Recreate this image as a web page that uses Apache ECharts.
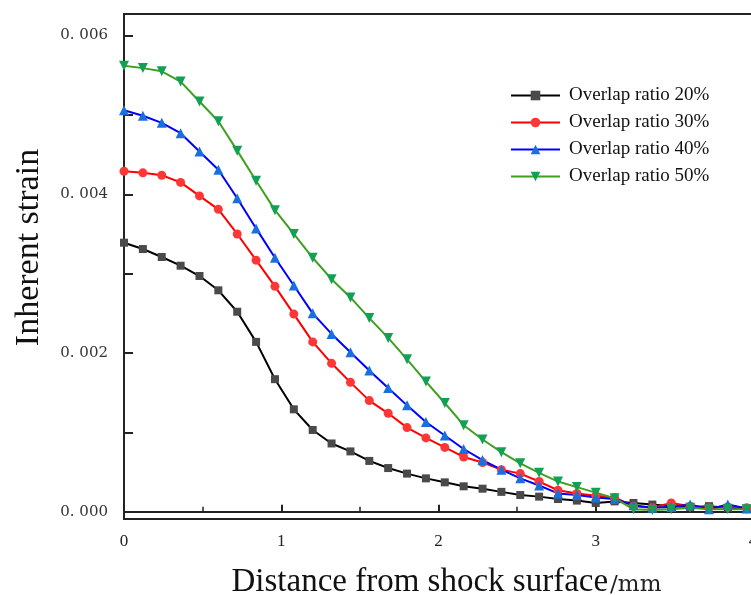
<!DOCTYPE html>
<html>
<head>
<meta charset="utf-8">
<script src="https://cdn.jsdelivr.net/npm/echarts@6/dist/echarts.min.js"></script>
<style>html,body{margin:0;padding:0;background:#fff;}#c{width:751px;height:595px;}</style>
</head>
<body>
<div id="c"></div>
<script>
const distances = [0,0.12,0.24,0.36,0.48,0.6,0.72,0.84,0.96,1.08,1.2,1.32,1.44,1.56,1.68,1.8,1.92,2.04,2.16,2.28,2.4,2.52,2.64,2.76,2.88,3.0,3.12,3.24,3.36,3.48,3.6,3.72,3.84,3.96];
const ratio20 = [0.00339,0.00331,0.00321,0.00310,0.00297,0.00279,0.00252,0.00214,0.00167,0.00129,0.00103,0.00086,0.00076,0.00064,0.00055,0.00048,0.00042,0.00037,0.00032,0.00029,0.00025,0.00021,0.00019,0.00016,0.00014,0.00011,0.00013,0.00011,0.00009,0.00007,0.00006,0.00007,0.00005,0.00004];
const ratio30 = [0.00429,0.00427,0.00424,0.00415,0.00398,0.00381,0.00350,0.00317,0.00284,0.00249,0.00214,0.00187,0.00163,0.00140,0.00124,0.00106,0.00093,0.00081,0.00069,0.00062,0.00053,0.00048,0.00038,0.00027,0.00023,0.00020,0.00018,0.00007,0.00005,0.00011,0.00007,0.00005,0.00006,0.00005];
const ratio40 = [0.00506,0.00499,0.00490,0.00477,0.00454,0.00431,0.00395,0.00357,0.00320,0.00285,0.00250,0.00224,0.00201,0.00178,0.00156,0.00134,0.00113,0.00096,0.00079,0.00065,0.00053,0.00042,0.00033,0.00023,0.00021,0.00018,0.00016,0.00008,0.00005,0.00006,0.00009,0.00003,0.00009,0.00004];
const ratio50 = [0.00562,0.00559,0.00555,0.00542,0.00517,0.00492,0.00455,0.00417,0.00380,0.00350,0.00320,0.00293,0.00270,0.00244,0.00219,0.00192,0.00164,0.00137,0.00109,0.00091,0.00075,0.00061,0.00049,0.00038,0.00031,0.00024,0.00017,0.00003,0.00002,0.00003,0.00005,0.00003,0.00003,0.00003];
const seriesNames = ['Overlap ratio 20%','Overlap ratio 30%','Overlap ratio 40%','Overlap ratio 50%'];
const yTickValues = [0,0.001,0.002,0.003,0.004,0.005,0.006];
const yLabelValues = [0,0.002,0.004,0.006];
const xLabelValues = [0,1,2,3,4];

const serif = '"Liberation Serif", "Times New Roman", serif';
function pairs(arr){ return distances.map((d,i)=>[d,arr[i]]); }
function mk(name, data, lineColor, markColor, symbol, rot, size){
  return {
    name, type:'line', data: pairs(data), smooth:false,
    symbol, symbolSize:size, symbolRotate:rot,
    lineStyle:{color:lineColor, width:2},
    itemStyle:{color:markColor},
    emphasis:{disabled:true}, animation:false, z: 2
  };
}
const chart = echarts.init(document.getElementById('c'));
chart.setOption({
  backgroundColor:'#fff',
  animation:false,
  grid:{left:124, top:14, width:629, height:505, containLabel:false, outerBoundsMode:'none',
        show:true, borderColor:'#222', borderWidth:2, backgroundColor:'transparent'},
  legend:{
    left:505, top:81, orient:'vertical', itemWidth:49, itemHeight:12, itemGap:8,
    textStyle:{fontFamily:serif, fontSize:19, color:'#111', padding:[0,0,0,4]},
    data:seriesNames
  },
  xAxis:{
    type:'value', min:0, max:4, interval:1,
    name:'{a|Distance from shock surface}{b|/mm}', nameLocation:'middle', nameGap:47,
    nameTextStyle:{padding:[0,0,0,16], rich:{a:{fontFamily:serif, fontSize:33, color:'#111'}, b:{fontFamily:'"DejaVu Serif", serif', fontSize:23, color:'#222', padding:[5,0,0,2]}}},
    axisLine:{show:true, lineStyle:{color:'#222', width:2}},
    axisTick:{show:true, inside:true, length:7, lineStyle:{color:'#222', width:2}},
    minorTick:{show:true, splitNumber:2, length:5, lineStyle:{color:'#222', width:1.5}},
    axisLabel:{fontFamily:serif, fontSize:17, color:'#222', margin:14, customValues:xLabelValues},
    splitLine:{show:false}
  },
  yAxis:{
    type:'value', min:-0.000092, max:0.006272,
    name:'Inherent strain', nameLocation:'middle', nameGap:78,
    nameTextStyle:{fontFamily:serif, fontSize:34, color:'#111', padding:[0,0,0,38]},
    axisLine:{show:true, lineStyle:{color:'#222', width:2}},
    axisTick:{show:true, inside:true, length:9, customValues:yTickValues, lineStyle:{color:'#222', width:2}},
    axisLabel:{fontFamily:'"DejaVu Serif", serif', fontSize:15, color:'#333', margin:16, customValues:yLabelValues,
      formatter:v=>{ const s=v.toFixed(3); return s.replace('.', '. '); }},
    splitLine:{show:false}
  },
  series:[
    mk(seriesNames[0], ratio20, '#000000', '#4a4a4a', 'rect', 0, 8),
    mk(seriesNames[1], ratio30, '#ff0000', '#ff3636', 'circle', 0, 9),
    mk(seriesNames[2], ratio40, '#0000ff', '#1a6fe0', 'triangle', 0, 10),
    mk(seriesNames[3], ratio50, '#3fa020', '#12a055', 'triangle', 180, 10)
  ]
});
</script>
</body>
</html>
